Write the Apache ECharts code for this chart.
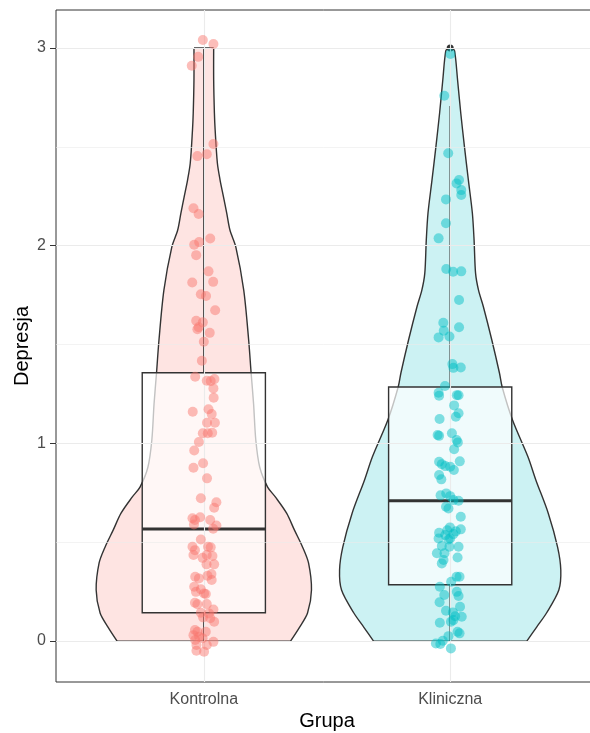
<!DOCTYPE html>
<html>
<head>
<meta charset="utf-8">
<script src="https://cdn.jsdelivr.net/npm/echarts@6/dist/echarts.min.js"></script>
<style>
html,body{margin:0;padding:0;background:#fff;}
#chart{width:590px;height:733px;}
</style>
</head>
<body>
<div id="chart"></div>
<script>
// ---------------- data ----------------
const categories = ['Kontrolna', 'Kliniczna'];
const yTickValues = [0, 1, 2, 3];
const yMinorGrid = [0.5, 1.5, 2.5];

// violin profiles: depression level and half-width of the density (x-axis units)
const kontrolnaViolinY = [3.0, 2.838, 2.67, 2.585, 2.418, 2.332, 2.246, 2.165, 2.079, 1.993, 1.775, 1.523, 1.356, 1.2, 1.017, 0.879, 0.779, 0.728, 0.647, 0.561, 0.475, 0.395, 0.258, 0.142, 0.071, 0];
const kontrolnaViolinW = [0.040, 0.040, 0.043, 0.046, 0.055, 0.066, 0.080, 0.093, 0.106, 0.130, 0.162, 0.182, 0.192, 0.202, 0.211, 0.227, 0.259, 0.291, 0.336, 0.368, 0.401, 0.425, 0.437, 0.421, 0.389, 0.352];
const klinicznaViolinY = [3.0, 2.985, 2.838, 2.67, 2.5, 2.33, 2.165, 2.028, 1.861, 1.775, 1.69, 1.523, 1.356, 1.285, 1.118, 0.931, 0.814, 0.647, 0.475, 0.359, 0.258, 0.142, 0.071, 0];
const klinicznaViolinW = [0.008, 0.018, 0.030, 0.043, 0.058, 0.074, 0.090, 0.097, 0.103, 0.115, 0.135, 0.169, 0.200, 0.211, 0.253, 0.316, 0.348, 0.398, 0.436, 0.449, 0.441, 0.391, 0.351, 0.311];

// box stats: [lower whisker, Q1, median, Q3, upper whisker]
const kontrolnaBox = [0, 0.143, 0.567, 1.357, 3.0];
const klinicznaBox = [0, 0.285, 0.710, 1.285, 2.706];
const klinicznaOutliers = [3.0];

// jittered observations
const kontrolnaValues = [3.040, 3.020, 2.955, 2.910, 2.514, 2.463, 2.453, 2.189, 2.160, 2.036, 2.018, 2.005, 1.952, 1.870, 1.814, 1.817, 1.754, 1.745, 1.673, 1.620, 1.612, 1.587, 1.577, 1.559, 1.514, 1.418, 1.337, 1.317, 1.315, 1.325, 1.278, 1.231, 1.160, 1.173, 1.148, 1.104, 1.104, 1.051, 1.051, 1.054, 1.007, 0.964, 0.877, 0.899, 0.823, 0.722, 0.702, 0.674, 0.621, 0.612, 0.626, 0.590, 0.612, 0.585, 0.568, 0.514, 0.477, 0.460, 0.477, 0.474, 0.435, 0.421, 0.435, 0.430, 0.388, 0.388, 0.325, 0.317, 0.330, 0.339, 0.309, 0.275, 0.249, 0.262, 0.241, 0.238, 0.194, 0.186, 0.187, 0.160, 0.143, 0.140, 0.120, 0.115, 0.098, 0.056, 0.047, 0.047, 0.030, 0.022, 0.005, 0.014, -0.004, -0.020, -0.020, -0.049, -0.054];
const kontrolnaJitter = [-0.004, 0.039, -0.023, -0.049, 0.039, 0.012, -0.026, -0.042, -0.021, 0.026, -0.019, -0.039, -0.031, 0.019, -0.047, 0.038, -0.012, 0.009, 0.046, -0.031, -0.004, -0.021, -0.026, 0.024, 0.000, -0.008, -0.035, 0.012, 0.028, 0.043, 0.039, 0.040, -0.045, 0.019, 0.032, 0.013, 0.045, -0.004, 0.016, 0.034, -0.020, -0.039, -0.042, -0.003, 0.013, -0.012, 0.051, 0.042, -0.046, -0.036, -0.015, -0.040, 0.026, 0.051, 0.038, -0.012, -0.046, -0.036, 0.017, 0.028, -0.042, -0.005, 0.012, 0.035, 0.011, 0.042, -0.035, -0.020, 0.015, 0.031, 0.032, -0.039, -0.032, -0.012, 0.001, 0.008, -0.036, -0.026, 0.012, 0.039, -0.012, 0.021, -0.003, 0.026, 0.042, -0.036, -0.026, 0.008, -0.042, -0.019, -0.035, -0.005, 0.039, -0.030, 0.012, -0.030, 0.001];
const klinicznaValues = [2.969, 2.758, 2.467, 2.332, 2.315, 2.281, 2.256, 2.234, 2.113, 2.037, 1.882, 1.868, 1.870, 1.725, 1.610, 1.570, 1.587, 1.536, 1.541, 1.401, 1.382, 1.384, 1.290, 1.256, 1.241, 1.244, 1.243, 1.192, 1.152, 1.135, 1.123, 1.042, 1.038, 1.051, 1.017, 1.005, 0.970, 0.907, 0.895, 0.885, 0.882, 0.865, 0.909, 0.840, 0.818, 0.737, 0.747, 0.733, 0.713, 0.710, 0.679, 0.671, 0.629, 0.575, 0.565, 0.561, 0.555, 0.548, 0.541, 0.536, 0.519, 0.519, 0.514, 0.481, 0.477, 0.477, 0.444, 0.444, 0.423, 0.410, 0.393, 0.325, 0.325, 0.300, 0.275, 0.249, 0.228, 0.233, 0.196, 0.174, 0.153, 0.145, 0.126, 0.123, 0.098, 0.106, 0.093, 0.047, 0.039, 0.025, 0.002, -0.012, -0.015, -0.037];
const klinicznaJitter = [0.001, -0.024, -0.008, 0.036, 0.026, 0.045, 0.045, -0.017, -0.017, -0.047, -0.016, 0.012, 0.045, 0.036, -0.028, -0.026, 0.036, -0.047, -0.003, 0.009, 0.013, 0.043, -0.021, -0.047, -0.045, 0.027, 0.034, 0.016, 0.034, 0.023, -0.043, -0.051, -0.045, 0.007, 0.026, 0.031, 0.016, -0.045, -0.034, -0.020, 0.000, 0.015, 0.039, -0.045, -0.036, -0.039, -0.016, 0.000, 0.013, 0.034, -0.017, -0.007, 0.043, -0.001, 0.043, -0.012, 0.023, -0.045, 0.013, -0.020, -0.047, 0.000, -0.007, -0.034, -0.003, 0.034, -0.054, -0.023, 0.030, -0.027, -0.034, 0.026, 0.038, 0.004, -0.042, 0.027, 0.034, -0.024, -0.043, 0.040, -0.017, 0.011, 0.020, 0.047, 0.003, 0.013, -0.042, 0.030, 0.038, -0.007, -0.030, -0.058, -0.040, 0.003];

// ---------------- build ----------------
const violinY = [kontrolnaViolinY, klinicznaViolinY];
const violinW = [kontrolnaViolinW, klinicznaViolinW];
const boxes = [kontrolnaBox, klinicznaBox];
const fills = ['rgba(248,118,109,0.2)', 'rgba(0,191,196,0.2)'];
const pointColors = ['rgba(248,118,109,0.6)', 'rgba(0,191,196,0.6)'];
const FONT = '"Liberation Sans", Arial, sans-serif';
const BOX_HALF = 0.25;

function renderViolin(params, api) {
  const g = params.dataIndex;
  const c = api.value(0);
  const ys = violinY[g], ws = violinW[g];
  const left = ys.map((y, i) => api.coord([c - ws[i], y]));
  const right = ys.map((y, i) => api.coord([c + ws[i], y]));
  const poly = left.concat(right.slice().reverse());
  const stroke = { stroke: '#333333', lineWidth: 1.4, fill: null };
  return {
    type: 'group',
    children: [
      { type: 'polygon', shape: { points: poly }, style: { fill: fills[g], stroke: null } },
      { type: 'polyline', shape: { points: left, smooth: 0.3 }, style: stroke },
      { type: 'polyline', shape: { points: right, smooth: 0.3 }, style: stroke },
      { type: 'line', shape: { x1: left[0][0], y1: left[0][1], x2: right[0][0], y2: right[0][1] }, style: stroke },
      { type: 'line', shape: { x1: left[left.length - 1][0], y1: left[left.length - 1][1], x2: right[right.length - 1][0], y2: right[right.length - 1][1] }, style: stroke }
    ]
  };
}

function renderBox(params, api) {
  const g = params.dataIndex;
  const c = api.value(0);
  const b = boxes[g];
  const tl = api.coord([c - BOX_HALF, b[3]]);
  const br = api.coord([c + BOX_HALF, b[1]]);
  const cTop = api.coord([c, b[4]]);
  const cQ3 = api.coord([c, b[3]]);
  const cQ1 = api.coord([c, b[1]]);
  const cBot = api.coord([c, b[0]]);
  const mL = api.coord([c - BOX_HALF, b[2]]);
  const mR = api.coord([c + BOX_HALF, b[2]]);
  const st = { stroke: '#333333', lineWidth: 1.4, fill: null };
  return {
    type: 'group',
    children: [
      { type: 'line', shape: { x1: cTop[0], y1: cTop[1], x2: cQ3[0], y2: cQ3[1] }, style: st },
      { type: 'line', shape: { x1: cQ1[0], y1: cQ1[1], x2: cBot[0], y2: cBot[1] }, style: st },
      { type: 'rect', shape: { x: tl[0], y: tl[1], width: br[0] - tl[0], height: br[1] - tl[1] },
        style: { fill: 'rgba(255,255,255,0.7)', stroke: '#333333', lineWidth: 1.4 } },
      { type: 'line', shape: { x1: mL[0], y1: mL[1], x2: mR[0], y2: mR[1] }, style: { stroke: '#333333', lineWidth: 3 } }
    ]
  };
}

const gridLines = [];
yTickValues.forEach(v => gridLines.push({ yAxis: v, lineStyle: { width: 1.1 } }));
yMinorGrid.forEach(v => gridLines.push({ yAxis: v, lineStyle: { width: 0.6 } }));
categories.forEach((c, i) => gridLines.push({ xAxis: i + 1, lineStyle: { width: 1.1 } }));

const option = {
  animation: false,
  backgroundColor: '#ffffff',
  grid: { left: 56, top: 10, width: 542, height: 672, show: true, borderColor: '#333333', borderWidth: 1, backgroundColor: 'transparent', containLabel: false, outerBoundsMode: 'none' },
  xAxis: {
    type: 'value', min: 0.4, max: 2.6,
    name: 'Grupa', nameLocation: 'middle', nameGap: 29, nameMoveOverlap: false,
    nameTextStyle: { fontFamily: FONT, fontSize: 20, color: '#000000' },
    axisLine: { show: false },
    axisTick: { show: true, customValues: [1, 2], length: 6, lineStyle: { color: '#333333', width: 1 } },
    axisLabel: { customValues: [1, 2], formatter: v => categories[Math.round(v) - 1], margin: 10, fontFamily: FONT, fontSize: 16, color: '#4d4d4d' },
    splitLine: { show: false }
  },
  yAxis: {
    type: 'value', min: -0.207, max: 3.192,
    name: 'Depresja', nameLocation: 'middle', nameGap: 24, nameMoveOverlap: false,
    nameTextStyle: { fontFamily: FONT, fontSize: 20, color: '#000000' },
    axisLine: { show: false },
    axisTick: { show: true, customValues: yTickValues, length: 6, lineStyle: { color: '#333333', width: 1 } },
    axisLabel: { customValues: yTickValues, margin: 10, fontFamily: FONT, fontSize: 16, color: '#4d4d4d' },
    splitLine: { show: false }
  },
  series: [
    {
      type: 'scatter', data: [], z: 1, silent: true,
      markLine: { silent: true, symbol: 'none', label: { show: false }, lineStyle: { color: '#ebebeb', type: 'solid' }, data: gridLines }
    },
    { type: 'custom', z: 2, renderItem: renderViolin, data: categories.map((c, i) => [i + 1]), silent: true },
    { type: 'custom', z: 3, renderItem: renderBox, data: categories.map((c, i) => [i + 1]), silent: true },
    { type: 'scatter', z: 4, symbolSize: 7, itemStyle: { color: '#333333', opacity: 1 }, data: klinicznaOutliers.map(v => [2, v]), silent: true },
    { type: 'scatter', z: 5, symbolSize: 10, itemStyle: { color: pointColors[0] }, data: kontrolnaValues.map((v, i) => [1 + kontrolnaJitter[i], v]), silent: true },
    { type: 'scatter', z: 5, symbolSize: 10, itemStyle: { color: pointColors[1] }, data: klinicznaValues.map((v, i) => [2 + klinicznaJitter[i], v]), silent: true }
  ]
};
const chart = echarts.init(document.getElementById('chart'), null, { renderer: 'canvas' });
chart.setOption(option);
</script>
</body>
</html>
